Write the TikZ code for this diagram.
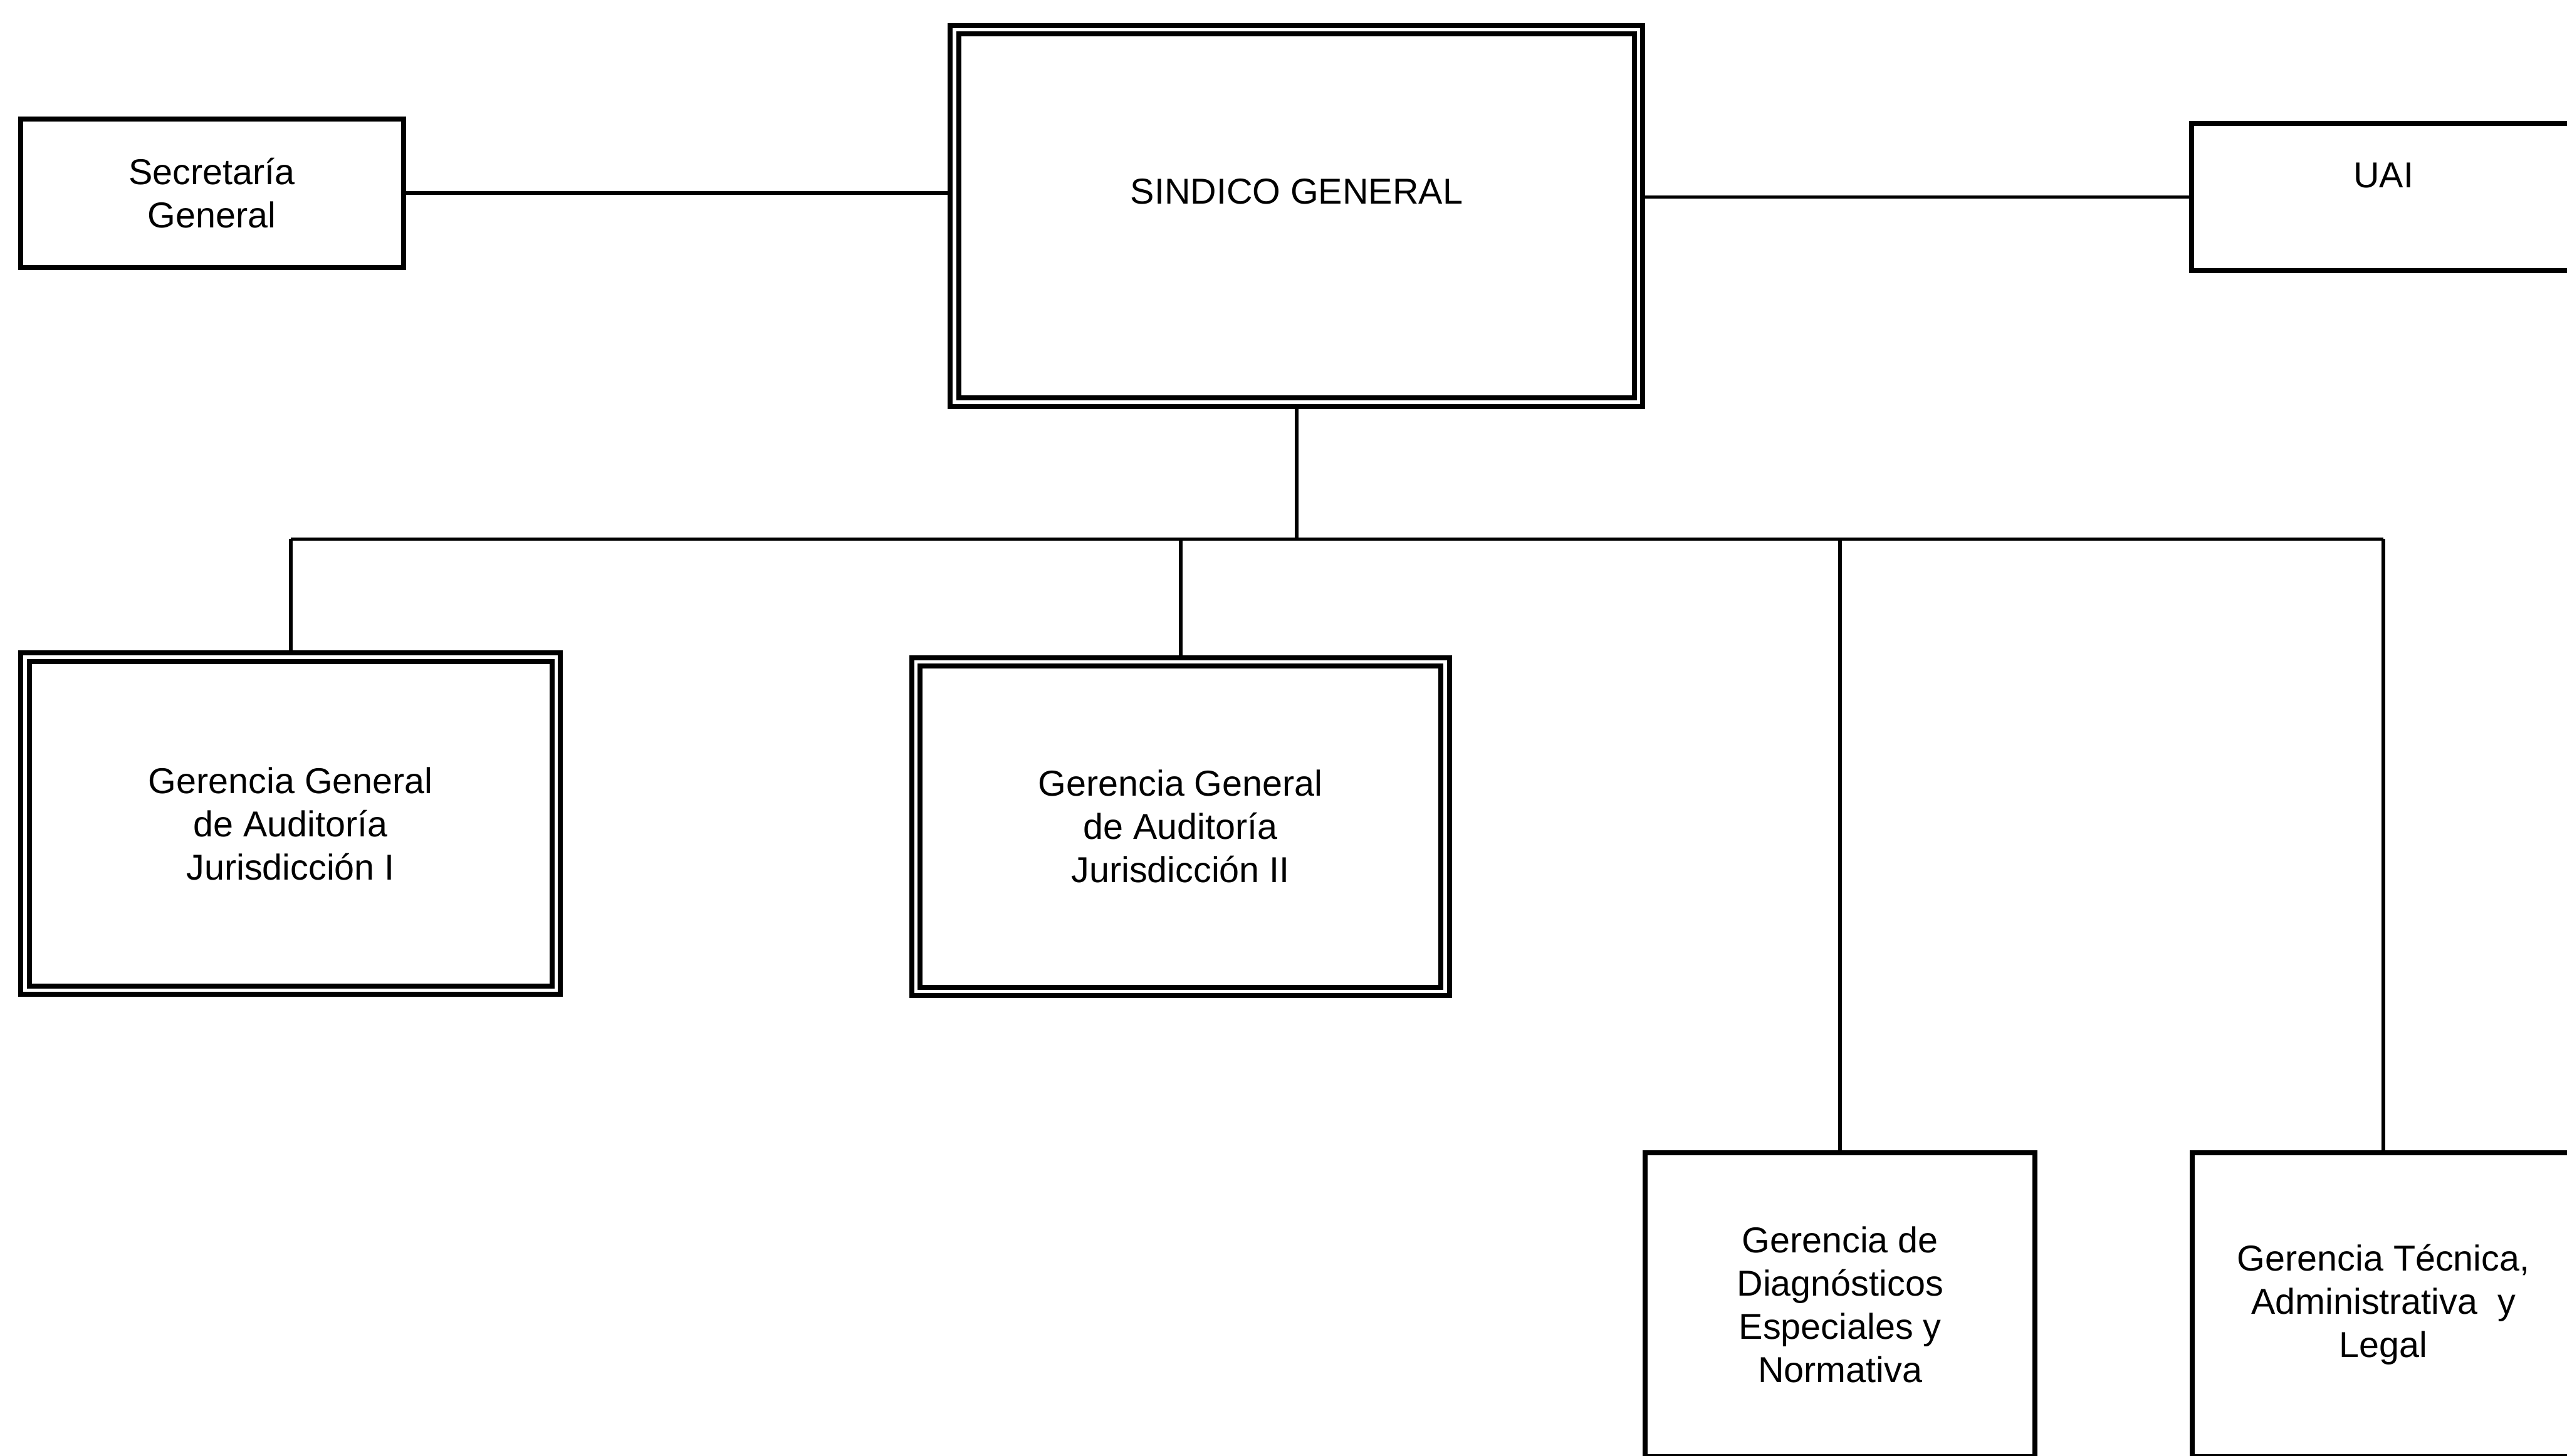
\documentclass[tikz,border=0pt]{standalone}
\usepackage{fontspec}
\setmainfont{Liberation Sans}
\begin{document}
\begin{tikzpicture}[
  box/.style={draw, line width=2.8pt, align=center, inner sep=0pt,
    font=\fontsize{20}{24}\selectfont},
  dbox/.style={box, double, double distance=1.8pt},
  link/.style={line width=2pt}]
  \useasboundingbox (0,0) rectangle (50.08,28.41);
  \clip (0,0) rectangle (50.08,28.41);
  % top row
  \node[box, minimum width=7.47cm, minimum height=2.9cm] (sec) at (4.135,24.64) {Secretaría\\General};
  \node[dbox, minimum width=13.35cm, minimum height=7.27cm, text depth=9.5mm] (sind) at (25.295,24.195) {SINDICO GENERAL};
  \node[box, minimum width=7.5cm, minimum height=2.88cm, text depth=8.5mm] (uai) at (46.5,24.565) {UAI};
  % gerencias
  \node[dbox, minimum width=10.36cm, minimum height=6.5cm] (gg1) at (5.67,12.335) {Gerencia General\\de Auditoría\\Jurisdicción I};
  \node[dbox, minimum width=10.33cm, minimum height=6.43cm] (gg2) at (23.03,12.28) {Gerencia General\\de Auditoría\\Jurisdicción II};
  \node[box, minimum width=7.6cm, minimum height=5.93cm] (diag) at (35.9,2.945) {Gerencia de\\Diagnósticos\\Especiales y\\Normativa};
  \node[box, minimum width=7.46cm, minimum height=5.93cm] (tec) at (46.5,2.945) {Gerencia Técnica,\\Administrativa\ \ y\\Legal};
  % connectors
  \coordinate (bus) at (25.295,17.89);
  \draw[link] (sec.east) -- (sec.east -| sind.west);
  \draw[link] (uai.west) -- (uai.west -| sind.east);
  \draw[link] (sind.south) -- (bus);
  \draw[link] (gg1.north |- bus) -- (tec.north |- bus);
  \foreach \n in {gg1,gg2,diag,tec}
    \draw[link] (\n.north |- bus) -- (\n.north);
\end{tikzpicture}
\end{document}
